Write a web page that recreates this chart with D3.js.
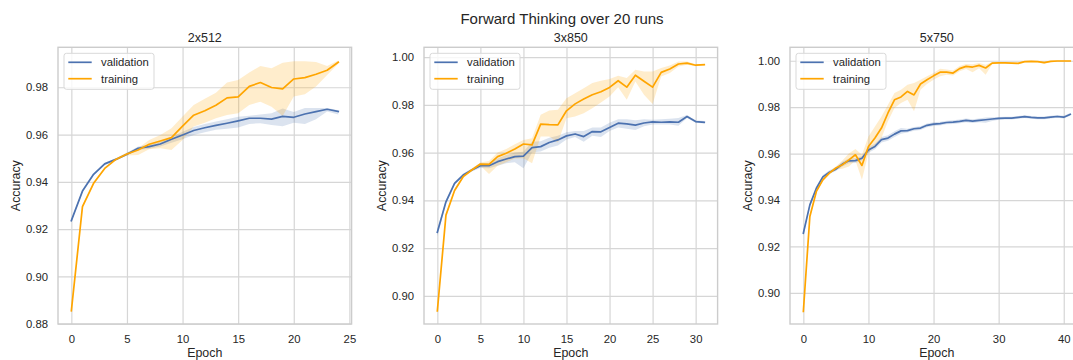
<!DOCTYPE html>
<html>
<head>
<meta charset="utf-8">
<script src="https://cdn.jsdelivr.net/npm/d3@7"></script>
<style>
  body { margin: 0; background: #fff; }
  text { font-family: "Liberation Sans", Arial, sans-serif; fill: #262626; }
</style>
</head>
<body>
<div id="chart"></div>
<script>
// mean accuracy per epoch, with the 95% band (lo / hi) over 20 runs

// 2x512
const val2x512 = [0.9236,0.9361,0.9432,0.9476,0.9495,0.9517,0.9542,0.9549,0.9560,0.9580,0.9598,0.9617,0.9629,0.9639,0.9648,0.9658,0.9669,0.9669,0.9665,0.9677,0.9673,0.9687,0.9697,0.9707,0.9698];
const valLo2x512 = [0.9230,0.9355,0.9427,0.9471,0.9490,0.9511,0.9535,0.9540,0.9550,0.9565,0.9580,0.9598,0.9610,0.9620,0.9625,0.9630,0.9645,0.9648,0.9640,0.9635,0.9650,0.9645,0.9665,0.9698,0.9685];
const valHi2x512 = [0.9242,0.9367,0.9437,0.9481,0.9500,0.9523,0.9550,0.9558,0.9570,0.9590,0.9612,0.9632,0.9645,0.9655,0.9665,0.9675,0.9680,0.9685,0.9690,0.9710,0.9695,0.9712,0.9712,0.9712,0.9703];
const train2x512 = [0.8855,0.9295,0.9394,0.9457,0.9495,0.9518,0.9535,0.9559,0.9573,0.9587,0.9636,0.9682,0.9701,0.9724,0.9755,0.9759,0.9804,0.9820,0.9799,0.9793,0.9835,0.9841,0.9855,0.9872,0.9906];
const trainLo2x512 = [0.8850,0.9288,0.9389,0.9452,0.9490,0.9512,0.9514,0.9538,0.9542,0.9535,0.9577,0.9634,0.9650,0.9669,0.9683,0.9690,0.9725,0.9739,0.9718,0.9679,0.9761,0.9770,0.9803,0.9852,0.9899];
const trainHi2x512 = [0.8860,0.9302,0.9399,0.9462,0.9500,0.9524,0.9542,0.9577,0.9598,0.9627,0.9676,0.9725,0.9751,0.9777,0.9820,0.9831,0.9862,0.9890,0.9880,0.9904,0.9910,0.9910,0.9907,0.9890,0.9913];

// 3x850
const val3x850 = [0.9266,0.9394,0.9471,0.9506,0.9527,0.9545,0.9545,0.9562,0.9573,0.9583,0.9585,0.9621,0.9625,0.9642,0.9653,0.9670,0.9678,0.9667,0.9688,0.9687,0.9705,0.9723,0.9720,0.9715,0.9724,0.9729,0.9727,0.9729,0.9727,0.9751,0.9730,0.9727];
const valLo3x850 = [0.9250,0.9385,0.9464,0.9500,0.9521,0.9535,0.9534,0.9545,0.9555,0.9560,0.9534,0.9600,0.9605,0.9620,0.9630,0.9655,0.9665,0.9645,0.9670,0.9665,0.9690,0.9705,0.9700,0.9695,0.9710,0.9718,0.9718,0.9718,0.9712,0.9745,0.9725,0.9722];
const valHi3x850 = [0.9280,0.9403,0.9478,0.9512,0.9533,0.9556,0.9556,0.9575,0.9590,0.9600,0.9604,0.9645,0.9648,0.9662,0.9670,0.9685,0.9690,0.9690,0.9705,0.9705,0.9725,0.9740,0.9740,0.9735,0.9740,0.9738,0.9740,0.9742,0.9745,0.9757,0.9735,0.9732];
const train3x850 = [0.8937,0.9338,0.9441,0.9499,0.9527,0.9552,0.9551,0.9583,0.9597,0.9615,0.9636,0.9632,0.9719,0.9717,0.9716,0.9775,0.9804,0.9824,0.9842,0.9855,0.9873,0.9901,0.9874,0.9924,0.9899,0.9874,0.9936,0.9950,0.9971,0.9975,0.9966,0.9968];
const trainLo3x850 = [0.8932,0.9330,0.9435,0.9494,0.9522,0.9545,0.9510,0.9545,0.9560,0.9575,0.9576,0.9555,0.9667,0.9667,0.9642,0.9744,0.9751,0.9765,0.9786,0.9810,0.9835,0.9874,0.9821,0.9898,0.9842,0.9804,0.9919,0.9933,0.9961,0.9968,0.9962,0.9965];
const trainHi3x850 = [0.8942,0.9346,0.9447,0.9504,0.9532,0.9558,0.9565,0.9600,0.9615,0.9635,0.9653,0.9660,0.9758,0.9776,0.9779,0.9828,0.9849,0.9870,0.9891,0.9901,0.9908,0.9922,0.9912,0.9947,0.9940,0.9940,0.9954,0.9965,0.9982,0.9982,0.9970,0.9971];

// 5x750
const val5x750 = [0.9257,0.9379,0.9451,0.9500,0.9520,0.9533,0.9555,0.9569,0.9570,0.9580,0.9616,0.9631,0.9660,0.9667,0.9684,0.9698,0.9699,0.9707,0.9710,0.9722,0.9727,0.9729,0.9734,0.9736,0.9739,0.9743,0.9740,0.9743,0.9746,0.9749,0.9752,0.9753,0.9753,0.9756,0.9759,0.9756,0.9754,0.9754,0.9757,0.9760,0.9757,0.9769];
const valLo5x750 = [0.9245,0.9371,0.9443,0.9492,0.9512,0.9525,0.9545,0.9559,0.9560,0.9570,0.9604,0.9619,0.9648,0.9655,0.9672,0.9686,0.9691,0.9699,0.9702,0.9714,0.9719,0.9721,0.9726,0.9728,0.9731,0.9735,0.9732,0.9735,0.9733,0.9741,0.9746,0.9747,0.9747,0.9750,0.9753,0.9750,0.9748,0.9748,0.9751,0.9754,0.9751,0.9763];
const valHi5x750 = [0.9269,0.9387,0.9459,0.9508,0.9528,0.9541,0.9565,0.9579,0.9580,0.9590,0.9628,0.9643,0.9672,0.9679,0.9696,0.9710,0.9707,0.9715,0.9718,0.9730,0.9735,0.9737,0.9742,0.9744,0.9747,0.9751,0.9748,0.9751,0.9756,0.9757,0.9758,0.9759,0.9759,0.9762,0.9765,0.9762,0.9760,0.9760,0.9763,0.9766,0.9763,0.9775];
const train5x750 = [0.8920,0.9329,0.9437,0.9487,0.9516,0.9538,0.9552,0.9573,0.9595,0.9549,0.9631,0.9667,0.9710,0.9775,0.9832,0.9844,0.9868,0.9853,0.9900,0.9918,0.9935,0.9951,0.9951,0.9947,0.9966,0.9976,0.9973,0.9980,0.9969,0.9990,0.9991,0.9991,0.9990,0.9989,0.9996,0.9997,0.9996,0.9992,0.9997,0.9999,0.9999,0.9999];
const trainLo5x750 = [0.8915,0.9322,0.9431,0.9482,0.9511,0.9532,0.9535,0.9545,0.9570,0.9487,0.9602,0.9638,0.9667,0.9739,0.9796,0.9818,0.9832,0.9782,0.9875,0.9900,0.9918,0.9933,0.9940,0.9936,0.9955,0.9965,0.9951,0.9968,0.9940,0.9985,0.9987,0.9988,0.9986,0.9985,0.9993,0.9995,0.9993,0.9987,0.9995,0.9997,0.9997,0.9997];
const trainHi5x750 = [0.8925,0.9336,0.9443,0.9492,0.9521,0.9544,0.9570,0.9600,0.9620,0.9595,0.9674,0.9717,0.9760,0.9810,0.9861,0.9875,0.9897,0.9904,0.9918,0.9933,0.9947,0.9966,0.9962,0.9958,0.9977,0.9986,0.9985,0.9990,0.9983,0.9995,0.9995,0.9995,0.9994,0.9993,0.9999,1.0000,0.9999,0.9997,1.0000,1.0001,1.0001,1.0001];

const titles = ["2x512", "3x850", "5x750"];
const seriesNames = ["validation", "training"];
const xTickValues = [[0, 5, 10, 15, 20, 25], [0, 5, 10, 15, 20, 25, 30], [0, 10, 20, 30, 40]];
const yTickValues = [[0.88, 0.90, 0.92, 0.94, 0.96, 0.98], [0.90, 0.92, 0.94, 0.96, 0.98, 1.00], [0.90, 0.92, 0.94, 0.96, 0.98, 1.00]];

const panels = [
  { val: val2x512, valLo: valLo2x512, valHi: valHi2x512, train: train2x512, trainLo: trainLo2x512, trainHi: trainHi2x512, yDomain: [0.8799, 0.9969] },
  { val: val3x850, valLo: valLo3x850, valHi: valHi3x850, train: train3x850, trainLo: trainLo3x850, trainHi: trainHi3x850, yDomain: [0.8882, 1.0041] },
  { val: val5x750, valLo: valLo5x750, valHi: valHi5x750, train: train5x750, trainLo: trainLo5x750, trainHi: trainHi5x750, yDomain: [0.8866, 1.0058] }
];

const colors = { validation: "#4c72b0", training: "#ffa500" };

const W = 1073, H = 360;
const plotTop = 47.3, plotBottom = 324, plotW = 293.6, plotH = plotBottom - plotTop;
const lefts = [58, 424, 790];

const svg = d3.select("#chart").append("svg")
  .attr("width", W)
  .attr("height", H);

// figure title
svg.append("text")
  .attr("x", 562)
  .attr("y", 23.5)
  .attr("text-anchor", "middle")
  .style("font-size", "15px")
  .text("Forward Thinking over 20 runs");

panels.forEach((p, i) => {
  const n = p.val.length - 1;
  const x = d3.scaleLinear().domain([-0.05 * n, n * 1.05]).range([0, plotW]);
  const y = d3.scaleLinear().domain(p.yDomain).range([plotH, 0]);

  const g = svg.append("g").attr("transform", `translate(${lefts[i]},${plotTop})`);

  // grid via axes
  const xAxis = g.append("g")
    .attr("transform", `translate(0,${plotH})`)
    .call(d3.axisBottom(x).tickValues(xTickValues[i]).tickFormat(d3.format("d")).tickSize(-plotH).tickPadding(10.5));
  const yAxis = g.append("g")
    .call(d3.axisLeft(y).tickValues(yTickValues[i]).tickFormat(d3.format(".2f")).tickSize(-plotW).tickPadding(10));
  [xAxis, yAxis].forEach(a => {
    a.select(".domain").remove();
    a.selectAll("line").attr("stroke", "#d6d6d6").attr("stroke-width", 1.2);
    a.selectAll("text").style("font-size", "11.3px").attr("fill", "#262626")
      .style("font-family", '"Liberation Sans", Arial, sans-serif');
  });

  // frame
  g.append("rect")
    .attr("width", plotW)
    .attr("height", plotH)
    .attr("fill", "none")
    .attr("stroke", "#cccccc")
    .attr("stroke-width", 1.4);

  const series = [
    { name: "validation", mean: p.val, lo: p.valLo, hi: p.valHi },
    { name: "training", mean: p.train, lo: p.trainLo, hi: p.trainHi }
  ];

  series.forEach(s => {
    const area = d3.area()
      .x((d, j) => x(j))
      .y0((d, j) => y(s.lo[j]))
      .y1((d, j) => y(s.hi[j]));
    g.append("path")
      .attr("d", area(s.mean))
      .attr("fill", colors[s.name])
      .attr("fill-opacity", 0.2);
  });
  series.forEach(s => {
    const line = d3.line().x((d, j) => x(j)).y(d => y(d));
    g.append("path")
      .attr("d", line(s.mean))
      .attr("fill", "none")
      .attr("stroke", colors[s.name])
      .attr("stroke-width", 1.7)
      .attr("stroke-linejoin", "round")
      .attr("stroke-linecap", "square");
  });

  // titles and axis labels
  g.append("text")
    .attr("x", plotW / 2)
    .attr("y", 41.7 - plotTop)
    .attr("text-anchor", "middle")
    .style("font-size", "12.5px")
    .text(titles[i]);
  g.append("text")
    .attr("x", plotW / 2)
    .attr("y", 356.7 - plotTop)
    .attr("text-anchor", "middle")
    .style("font-size", "12.4px")
    .text("Epoch");
  g.append("text")
    .attr("transform", `translate(-38,${plotH / 2}) rotate(-90)`)
    .attr("text-anchor", "middle")
    .style("font-size", "12.4px")
    .text("Accuracy");

  // legend
  const lg = g.append("g").attr("transform", "translate(6,6)");
  lg.append("rect")
    .attr("width", 90)
    .attr("height", 36)
    .attr("rx", 2.5)
    .attr("fill", "#fff")
    .attr("fill-opacity", 0.8)
    .attr("stroke", "#d9d9d9")
    .attr("stroke-width", 1);
  seriesNames.forEach((name, k) => {
    const ly = 9 + k * 16.4;
    lg.append("line")
      .attr("x1", 4.3).attr("x2", 27.7)
      .attr("y1", ly).attr("y2", ly)
      .attr("stroke", colors[name])
      .attr("stroke-width", 1.7);
    lg.append("text")
      .attr("x", 37)
      .attr("y", ly)
      .attr("dy", "0.35em")
      .style("font-size", "11.3px")
      .text(name);
  });
});
</script>
</body>
</html>
